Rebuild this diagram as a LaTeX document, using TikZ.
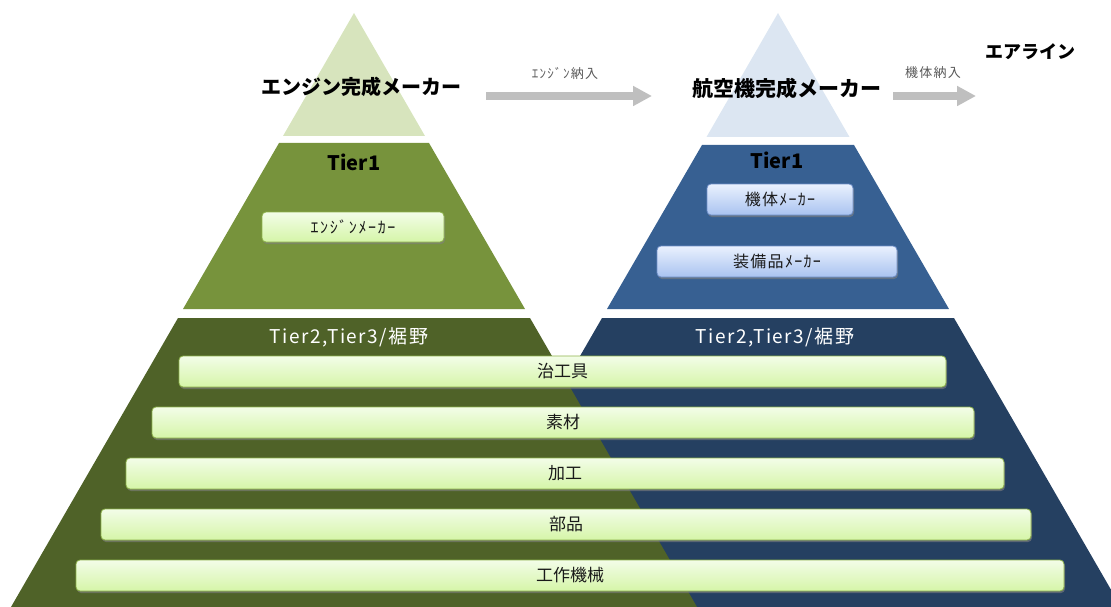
\documentclass[tikz,border=0pt]{standalone}
\usepackage{fontspec}
\setmainfont{Noto Sans CJK JP}
\usetikzlibrary{arrows.meta,shadows}
\definecolor{gtop}{HTML}{D7E4BD}
\definecolor{gmid}{HTML}{77933C}
\definecolor{gbot}{HTML}{4F6228}
\definecolor{btop}{HTML}{DCE6F2}
\definecolor{bmid}{HTML}{376092}
\definecolor{bbot}{HTML}{254061}
\definecolor{barT}{HTML}{F3FDE8}
\definecolor{barB}{HTML}{D5F5A8}
\definecolor{barE}{HTML}{8DB24A}
\definecolor{bluT}{HTML}{EAF1FE}
\definecolor{bluB}{HTML}{A9C3F0}
\definecolor{bluE}{HTML}{6F8FC8}
\definecolor{arrowgray}{HTML}{BFBFBF}
\definecolor{labelgray}{HTML}{595959}
\tikzset{
  barbox/.style={draw=barE, line width=0.8pt, rounded corners=4pt,
    top color=barT, bottom color=barB, minimum height=31pt, inner sep=0pt,
    text=black!90, font=\fontsize{17}{17}\selectfont,
    drop shadow={opacity=0.6, shadow xshift=1pt, shadow yshift=-2pt}},
  gbox/.style={barbox, font=\fontsize{16}{16}\selectfont\addfontfeature{LetterSpace=10}},
  bbox/.style={barbox, draw=bluE, top color=bluT, bottom color=bluB,
    font=\fontsize{16}{16}\selectfont\addfontfeature{LetterSpace=8}},
  titletext/.style={inner sep=0pt, font=\fontsize{20}{20}\selectfont\bfseries, text=black},
  tiertext/.style={inner sep=0pt, font=\fontsize{20}{20}\selectfont\bfseries, text=black},
  tier2text/.style={inner sep=0pt, font=\fontsize{19}{19}\selectfont\addfontfeature{LetterSpace=8}, text=white},
  alabel/.style={inner sep=0pt, font=\fontsize{13}{13}\selectfont\addfontfeature{LetterSpace=10}, text=labelgray},
  garrow/.style={draw=arrowgray, line width=8pt, -{Triangle[width=19pt,length=19pt]}}
}
\begin{document}
\begin{tikzpicture}[x=1pt,y=-1pt]
\useasboundingbox (0,0) rectangle (1111,607);
\begin{scope}
\clip (0,0) rectangle (1111,607);
% right (blue) pyramid
\fill[btop] (778,13) -- (849.5,137) -- (706.5,137) -- cycle;
\fill[bmid] (702,145) -- (854,145) -- (949,309) -- (607,309) -- cycle;
\fill[bbot] (602,318) -- (954,318) -- (1121,607) -- (435,607) -- cycle;
% left (green) pyramid
\fill[gtop] (354,13) -- (425,136) -- (283,136) -- cycle;
\fill[gmid] (279,143) -- (429,143) -- (525,309) -- (183,309) -- cycle;
\fill[gbot] (178,318) -- (530,318) -- (697,607) -- (11,607) -- cycle;
\end{scope}

% titles
\node[titletext] (engmaker) at (361,87) {エンジン完成メーカー};
\node[titletext, font=\fontsize{21}{21}\selectfont\bfseries] (acmaker) at (787,88) {航空機完成メーカー};
\node[titletext, font=\fontsize{18}{18}\selectfont\bfseries] (airline) at (1030,52) {エアライン};

% arrows
\coordinate (a1s) at (486,96);
\coordinate (a1e) at (652,96);
\coordinate (a2s) at (893,96);
\coordinate (a2e) at (976,96);
\draw[garrow] (a1s) -- (a1e);
\draw[garrow] (a2s) -- (a2e);
\node[alabel] (lab1) at (565,73) {ｴﾝｼﾞﾝ納入};
\node[alabel] (lab2) at (933,73) {機体納入};

% Tier1
\node[tiertext] (tier1l) at (354,162) {Tier1};
\node[tiertext] (tier1r) at (777,160) {Tier1};
\node[gbox, minimum width=182pt, minimum height=30pt] (engbox) at (353,227) {ｴﾝｼﾞﾝﾒｰｶｰ};
\node[bbox, minimum width=146pt] (kitaibox) at (780,199.5) {機体ﾒｰｶｰ};
\node[bbox, minimum width=240pt] (soubibox) at (777,261.5) {装備品ﾒｰｶｰ};

% Tier2/3
\node[tier2text] (tier2l) at (349,337) {Tier2,Tier3/裾野};
\node[tier2text] (tier2r) at (775,337) {Tier2,Tier3/裾野};

\node[barbox, minimum width=767pt] (bar1) at (562.5,371.5) {治工具};
\node[barbox, minimum width=822pt] (bar2) at (563,422.5) {素材};
\node[barbox, minimum width=878pt] (bar3) at (565,473.5) {加工};
\node[barbox, minimum width=930pt] (bar4) at (566,524.5) {部品};
\node[barbox, minimum width=988pt] (bar5) at (570,575.5) {工作機械};
\end{tikzpicture}
\end{document}
